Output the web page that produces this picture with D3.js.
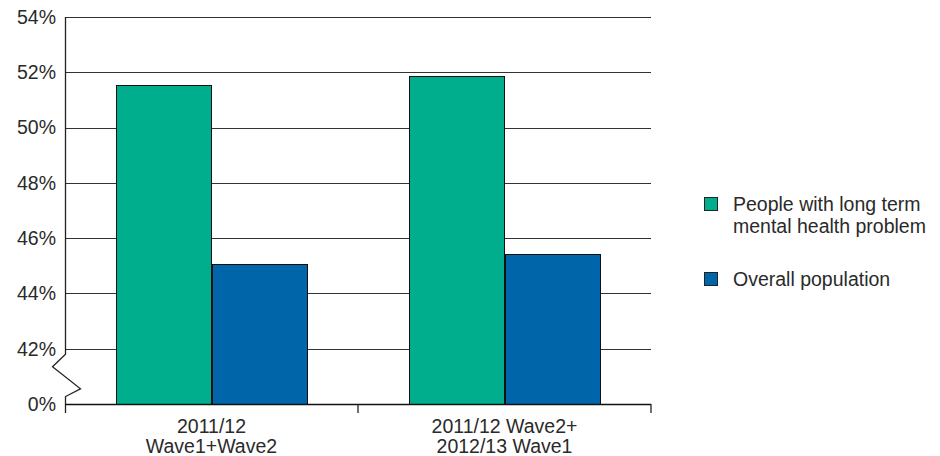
<!DOCTYPE html>
<html><head><meta charset="utf-8">
<script src="https://cdn.jsdelivr.net/npm/d3@7"></script>
<style>body{margin:0;background:#fff}svg text{font-family:"Liberation Sans",Arial,sans-serif;fill:#2a2a2a}</style>
</head><body><svg id="c" width="940" height="456"></svg>
<script>
const categories = [["2011/12","Wave1+Wave2"],["2011/12 Wave2+","2012/13 Wave1"]];
const seriesNames = [["People with long term","mental health problem"],["Overall population"]];
const seriesColors = ["#00ae8e","#0066a9"];
const mentalHealth = [51.55, 51.85];
const overall = [45.07, 45.43];
const tickValues = [40,42,44,46,48,50,52,54];
const tickLabels = ["0%","42%","44%","46%","48%","50%","52%","54%"];

const svg = d3.select("#c");
const L = 65, R = 651, T = 17, B = 404;
const FS = 19.5;
const y = d3.scaleLinear().domain([40,54]).range([B,T]);
const x = d3.scaleBand().domain([0,1]).range([L,R]);
const inner = d3.scaleBand().domain([0,1]).range([0, x.bandwidth()]).paddingOuter(0.54).paddingInner(0);

// gridlines (skip the baseline)
svg.append("g").selectAll("line").data(tickValues.filter(v=>v>40)).join("line")
  .attr("x1",L).attr("x2",R).attr("y1",d=>Math.round(y(d))+0.5).attr("y2",d=>Math.round(y(d))+0.5)
  .attr("stroke","#333").attr("stroke-width",1.2);

// y tick labels
svg.append("g").selectAll("text").data(tickValues).join("text")
  .attr("x",56).attr("y",d=>y(d)).attr("dy","0.35em").attr("text-anchor","end")
  .attr("font-size",FS).text((d,i)=>tickLabels[i]);

// bars
const series = [mentalHealth, overall];
series.forEach((vals,s)=>{
  svg.append("g").selectAll("rect").data(vals).join("rect")
    .attr("x",(d,i)=>Math.round(x(i)+inner(s))+0.5).attr("width",Math.round(inner.bandwidth()))
    .attr("y",d=>Math.round(y(d))+0.5).attr("height",d=>y(40)-Math.round(y(d)))
    .attr("fill",seriesColors[s]).attr("stroke","#111").attr("stroke-width",1);
});

// y axis with break
const ax = L+0.5;
svg.append("path").attr("fill","none").attr("stroke","#222").attr("stroke-width",1.3)
  .attr("d",`M${ax},${T} L${ax},${y(41.8)} L${ax-13},${y(41.35)} L${ax+15},${y(40.55)} L${ax},${y(40.27)} L${ax},${B+9}`);

// x axis
svg.append("line").attr("x1",L).attr("x2",R).attr("y1",B+0.5).attr("y2",B+0.5).attr("stroke","#111").attr("stroke-width",1.5);
svg.append("g").selectAll("line").data([x(1), R]).join("line")
  .attr("x1",d=>d).attr("x2",d=>d).attr("y1",B).attr("y2",B+9).attr("stroke","#222").attr("stroke-width",1.3);

// x labels
const xl = svg.append("g").selectAll("text").data(categories).join("text")
  .attr("x",(d,i)=>x(i)+x.bandwidth()/2).attr("y",433).attr("text-anchor","middle").attr("font-size",FS);
xl.selectAll("tspan").data(d=>d).join("tspan")
  .attr("x",function(){return this.parentNode.getAttribute("x");})
  .attr("dy",(d,i)=>i?20:0).text(d=>d);

// legend
const lg = svg.append("g");
const ly = [197, 272];
seriesNames.forEach((lines,s)=>{
  lg.append("rect").attr("x",704.5).attr("y",ly[s]+0.5).attr("width",13).attr("height",13)
    .attr("fill",seriesColors[s]).attr("stroke","#222").attr("stroke-width",1);
  const t = lg.append("text").attr("x",733).attr("y",ly[s]+14).attr("font-size",FS);
  t.selectAll("tspan").data(lines).join("tspan").attr("x",733).attr("dy",(d,i)=>i?21.5:0).text(d=>d);
});
</script></body></html>
